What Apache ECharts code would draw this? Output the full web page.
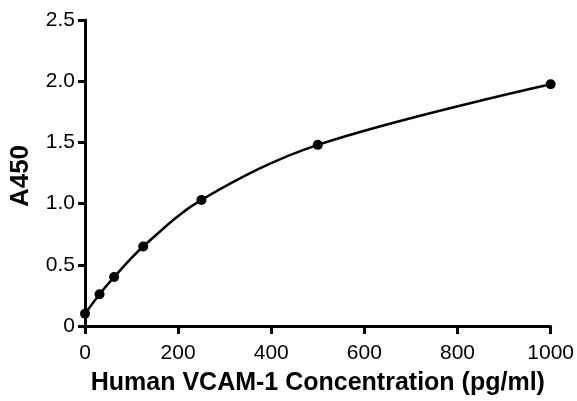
<!DOCTYPE html>
<html>
<head>
<meta charset="utf-8">
<script src="https://cdn.jsdelivr.net/npm/echarts@6/dist/echarts.min.js"></script>
<style>
html,body{margin:0;padding:0;background:#fff;}
#c{width:577px;height:401px;}
</style>
</head>
<body>
<div id="c"></div>
<script>
var concentrations = [0, 31.25, 62.5, 125, 250, 500, 1000];
var absorbance = [0.10, 0.26, 0.40, 0.65, 1.03, 1.48, 1.975];
var xTicks = [0, 200, 400, 600, 800, 1000];
var yTicks = [0, 0.5, 1.0, 1.5, 2.0, 2.5];

var pts = concentrations.map(function (c, i) { return [c, absorbance[i]]; });
var font = '"Liberation Sans", Arial, Helvetica, sans-serif';

var chart = echarts.init(document.getElementById('c'), null, {renderer: 'canvas'});
chart.setOption({
  animation: false,
  backgroundColor: '#fff',
  grid: {left: 84, right: 24, top: 20, bottom: 67, containLabel: false},
  xAxis: {
    type: 'value',
    min: xTicks[0], max: xTicks[xTicks.length - 1], interval: 200,
    name: 'Human VCAM-1 Concentration (pg/ml)',
    nameLocation: 'middle', nameGap: 45,
    nameTextStyle: {fontFamily: font, fontWeight: 'bold', fontSize: 25, color: '#000'},
    axisLine: {show: true, onZero: false, lineStyle: {color: '#000', width: 3}},
    axisTick: {show: true, inside: false, length: 8, lineStyle: {color: '#000', width: 3}},
    axisLabel: {fontFamily: font, fontSize: 21, color: '#000', margin: 17,
      formatter: function (v) { return String(v); }},
    splitLine: {show: false}
  },
  yAxis: {
    type: 'value',
    min: yTicks[0], max: yTicks[yTicks.length - 1], interval: 0.5,
    name: 'A450',
    nameLocation: 'middle', nameGap: 51,
    nameTextStyle: {fontFamily: font, fontWeight: 'bold', fontSize: 26, color: '#000', padding: [0, 6, 0, 0]},
    axisLine: {show: true, onZero: false, lineStyle: {color: '#000', width: 3}},
    axisTick: {show: true, inside: false, length: 7, lineStyle: {color: '#000', width: 3}},
    axisLabel: {fontFamily: font, fontSize: 21, color: '#000', margin: 10,
      formatter: function (v) { return v === 0 ? '0' : v.toFixed(1); }},
    splitLine: {show: false}
  },
  series: [{
    type: 'line',
    data: pts,
    smooth: 0.35,
    symbol: 'circle',
    symbolSize: 10,
    itemStyle: {color: '#000'},
    lineStyle: {color: '#000', width: 2.5},
    clip: false
  }]
});
</script>
</body>
</html>
